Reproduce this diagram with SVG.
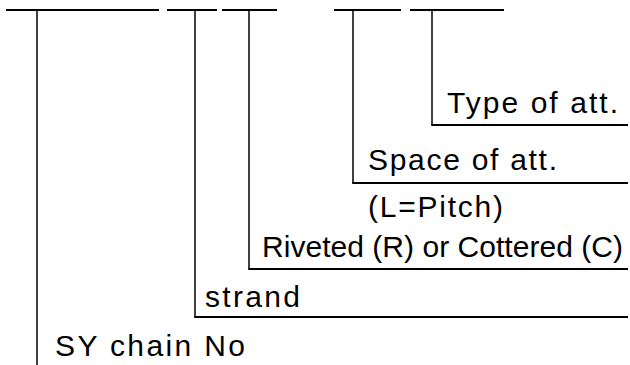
<svg xmlns="http://www.w3.org/2000/svg" width="630" height="365" viewBox="0 0 630 365">
  <style>
    .seg { stroke: #000; stroke-width: 2; fill: none; }
    .conn { stroke: #000; stroke-width: 1.5; fill: none; }
    .base { stroke: #000; stroke-width: 2; fill: none; }
    .lbl { font-family: "Liberation Sans", Arial, sans-serif; font-size: 30px; fill: #000; }
  </style>
  <rect width="630" height="365" fill="#fff"/>
  <g id="code-fields">
    <line id="field-chain" class="seg" x1="6" y1="10" x2="159" y2="10"/>
    <line id="field-strand" class="seg" x1="167" y1="10" x2="217" y2="10"/>
    <line id="field-rc" class="seg" x1="222" y1="10" x2="277" y2="10"/>
    <line id="field-space" class="seg" x1="334" y1="10" x2="401" y2="10"/>
    <line id="field-type" class="seg" x1="410" y1="10" x2="504" y2="10"/>
  </g>
  <g id="connectors">
    <line class="conn" x1="37" y1="10" x2="37" y2="365"/>
    <path class="conn" d="M195,10 V317"/>
    <path class="base" d="M194.25,317 H628"/>
    <path class="conn" d="M249,10 V269"/>
    <path class="base" d="M248.25,269 H628"/>
    <path class="conn" d="M353,10 V183"/>
    <path class="base" d="M352.25,183 H628"/>
    <path class="conn" d="M432,10 V125"/>
    <path class="base" d="M431.25,125 H628"/>
  </g>
  <g id="label-type"><text class="lbl" x="447" y="113" textLength="171" lengthAdjust="spacing">Type of att.</text></g>
  <g id="label-space"><text class="lbl" x="368" y="170" textLength="189" lengthAdjust="spacing">Space of att.</text></g>
  <g id="label-pitch"><text class="lbl" x="368" y="217" textLength="135" lengthAdjust="spacing">(L=Pitch)</text></g>
  <g id="label-rc"><text class="lbl" x="262" y="257" textLength="361" lengthAdjust="spacing">Riveted (R) or Cottered (C)</text></g>
  <g id="label-strand"><text class="lbl" x="205" y="307" textLength="95" lengthAdjust="spacing">strand</text></g>
  <g id="label-chain"><text class="lbl" x="55" y="356" textLength="190" lengthAdjust="spacing">SY chain No</text></g>
</svg>
